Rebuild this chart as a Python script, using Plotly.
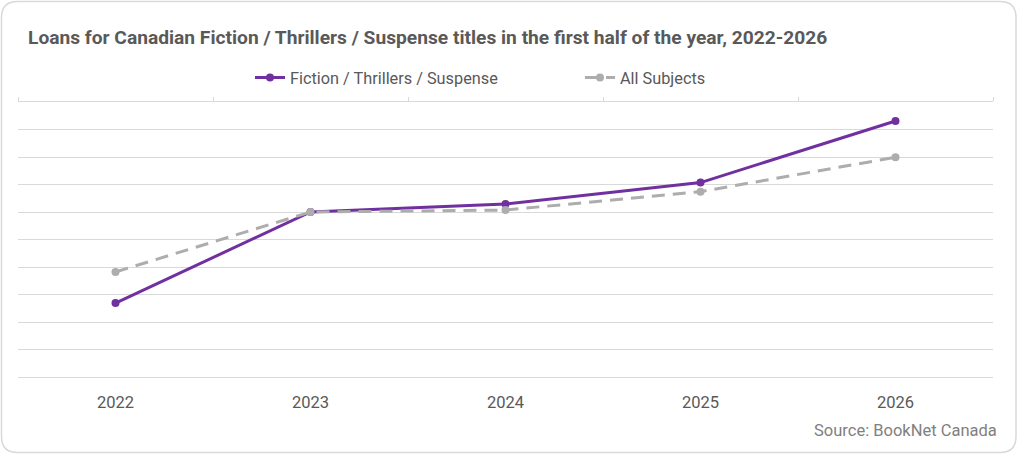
import plotly.graph_objects as go

# data (index units, y labels hidden in the original)
years = ["2022", "2023", "2024", "2025", "2026"]
fiction = [2.69, 6.0, 6.29, 7.07, 9.31]
all_subjects = [3.82, 6.0, 6.07, 6.74, 7.99]

W, H = 1024, 457
L, R, T, B = 18, 31, 102, 80
pw, ph = W - L - R, H - T - B


def px(x):
    return (x - L) / pw


def py(y):
    return (H - B - y) / ph


def card_path(x0, y0, x1, y1, r):
    # rounded rectangle in paper coords, given pixel corners
    ax0, ax1 = px(x0), px(x1)
    ay0, ay1 = py(y0), py(y1)  # ay0 top, ay1 bottom
    rx, ry = r / pw, r / ph
    return (f"M {ax0 + rx},{ay0} L {ax1 - rx},{ay0} Q {ax1},{ay0} {ax1},{ay0 - ry} "
            f"L {ax1},{ay1 + ry} Q {ax1},{ay1} {ax1 - rx},{ay1} "
            f"L {ax0 + rx},{ay1} Q {ax0},{ay1} {ax0},{ay1 + ry} "
            f"L {ax0},{ay0 - ry} Q {ax0},{ay0} {ax0 + rx},{ay0} Z")


fig = go.Figure()
fig.add_trace(go.Scatter(x=years, y=fiction, mode="lines+markers",
                         name="Fiction / Thrillers / Suspense",
                         line=dict(color="#7030A0", width=3),
                         marker=dict(size=8, color="#7030A0")))
fig.add_trace(go.Scatter(x=years, y=all_subjects, mode="lines+markers",
                         name="All Subjects",
                         line=dict(color="#ADADAD", width=3, dash="13px,8px"),
                         marker=dict(size=8, color="#ADADAD")))
# carrier for the top tick axis
fig.add_trace(go.Scatter(x=[0], y=[0], xaxis="x2", mode="markers",
                         marker=dict(opacity=0), showlegend=False, hoverinfo="skip"))

fig.update_layout(
    width=W, height=H,
    margin=dict(l=L, r=R, t=T, b=B),
    paper_bgcolor="white", plot_bgcolor="white",
    font=dict(family="Roboto", color="#595959"),
    title=dict(text="<b>Loans for Canadian Fiction / Thrillers / Suspense titles in the first half of the year, 2022-2026</b>",
               x=px(28), xref="paper", xanchor="left", y=1 - 37 / H, yanchor="middle",
               font=dict(size=19.2, color="#595959")),
    legend=dict(orientation="h", x=px(250), xanchor="left", y=py(78), yanchor="middle",
                font=dict(size=16.3, color="#595959"), entrywidth=285,
                entrywidthmode="pixels", bgcolor="rgba(0,0,0,0)"),
    xaxis=dict(type="category", range=[-0.5, 4.5], showgrid=False, showline=False,
               ticks="", tickfont=dict(size=16.5, color="#595959"), zeroline=False,
               ticklabelstandoff=13),
    xaxis2=dict(overlaying="x", side="top", range=[-0.5, 4.5],
                tickvals=[-0.5, 0.5, 1.5, 2.5, 3.5, 4.5], showticklabels=False,
                ticks="outside", ticklen=4, tickcolor="#D9D9D9", showline=True,
                linecolor="#D9D9D9", linewidth=1, showgrid=False, zeroline=False),
    yaxis=dict(range=[0, 10], dtick=1, showticklabels=False, showgrid=True,
               gridcolor="#D9D9D9", gridwidth=1, zeroline=True,
               zerolinecolor="#D9D9D9", zerolinewidth=1, showline=False),
    showlegend=True,
    shapes=[dict(type="path", xref="paper", yref="paper",
                 path=card_path(1.5, 1.5, 1016, 452.5, 16),
                 line=dict(color="#D9D9D9", width=1.5), layer="below")],
    annotations=[dict(text="Source: BookNet Canada", xref="paper", yref="paper",
                      x=px(999), y=py(430), xanchor="right", yanchor="middle",
                      showarrow=False, font=dict(size=16.5, color="#808080"))],
)

fig.write_html("out.html", config={"displayModeBar": False},
               post_script="document.body.style.margin='0';")
